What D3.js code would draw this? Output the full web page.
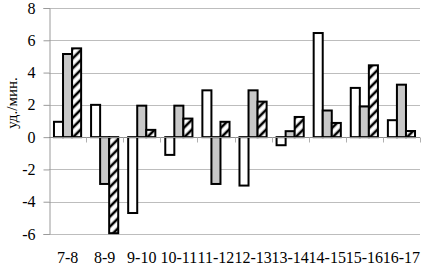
<!DOCTYPE html>
<html>
<head>
<meta charset="utf-8">
<script src="https://cdn.jsdelivr.net/npm/d3@7"></script>
<style>
  body { margin: 0; background: #fff; }
  svg { display: block; font-family: "Liberation Serif", "Times New Roman", serif; }
</style>
</head>
<body>
<div id="chart"></div>
<script>
// categories (hours) and the three series
var categories = ["7-8", "8-9", "9-10", "10-11", "11-12", "12-13", "13-14", "14-15", "15-16", "16-17"];
var seriesNames = ["s1", "s2", "s3"];
var s1 = [0.95, 2.0, -4.7, -1.1, 2.9, -3.0, -0.5, 6.45, 3.05, 1.05];
var s2 = [5.15, -2.9, 1.95, 1.95, -2.9, 2.9, 0.37, 1.65, 1.9, 3.25];
var s3 = [5.5, -5.95, 0.45, 1.15, 0.95, 2.2, 1.25, 0.88, 4.45, 0.38];
var yTicks = [-6, -4, -2, 0, 2, 4, 6, 8];
var yTitle = "уд./мин.";

var width = 422, height = 265;
var margin = {top: 8, right: 2, bottom: 31, left: 49};

var svg = d3.select("#chart").append("svg")
    .attr("width", width)
    .attr("height", height);

// hatch for third series
var defs = svg.append("defs");
defs.append("pattern")
    .attr("id", "hatch")
    .attr("patternUnits", "userSpaceOnUse")
    .attr("width", 7)
    .attr("height", 7)
    .attr("patternTransform", "rotate(45)")
  .call(function(p) {
      p.append("rect").attr("width", 7).attr("height", 7).attr("fill", "#fff");
      p.append("line").attr("x1", 2).attr("y1", 0).attr("x2", 2).attr("y2", 7)
        .attr("stroke", "#000").attr("stroke-width", 2.6);
  });

var fills = {s1: "#fff", s2: "#c8c8c8", s3: "url(#hatch)"};

var x0 = d3.scaleBand()
    .domain(categories)
    .range([margin.left, width - margin.right])
    .paddingInner(0).paddingOuter(0);

var x1 = d3.scaleBand()
    .domain(seriesNames)
    .range([0, x0.bandwidth()])
    .paddingInner(0)
    .paddingOuter(0.55);

var y = d3.scaleLinear()
    .domain([-6, 8])
    .range([height - margin.bottom, margin.top]);

// gridlines
svg.append("g")
    .selectAll("line")
    .data(yTicks)
    .join("line")
    .attr("x1", margin.left)
    .attr("x2", width - margin.right)
    .attr("y1", d => Math.round(y(d)) + 0.5)
    .attr("y2", d => Math.round(y(d)) + 0.5)
    .attr("stroke", "#bdbdbd")
    .attr("stroke-width", 1);

// y axis
var yAxis = svg.append("g")
    .attr("transform", "translate(" + (margin.left + 0.5) + ",0)")
    .call(d3.axisLeft(y).tickValues(yTicks).tickSize(6).tickPadding(8).tickFormat(d => d < 0 ? "-" + Math.abs(d) : d));
yAxis.select(".domain").attr("stroke", "#9a9a9a");
yAxis.selectAll(".tick line").attr("stroke", "#9a9a9a");
yAxis.selectAll("text").attr("font-size", 16).attr("fill", "#000")
    .attr("font-family", "Liberation Serif");

// bars
var rows = categories.map(function(c, i) {
    return {cat: c, vals: [{k: "s1", v: s1[i]}, {k: "s2", v: s2[i]}, {k: "s3", v: s3[i]}]};
});

var groups = svg.append("g").selectAll("g")
    .data(rows)
    .join("g")
    .attr("transform", d => "translate(" + x0(d.cat) + ",0)");

groups.selectAll("rect")
    .data(d => d.vals)
    .join("rect")
    .attr("x", d => x1(d.k))
    .attr("width", x1.bandwidth())
    .attr("y", d => y(Math.max(0, d.v)))
    .attr("height", d => Math.abs(y(d.v) - y(0)))
    .attr("fill", d => fills[d.k])
    .attr("stroke", "#000")
    .attr("stroke-width", 2);

// zero line with category ticks
var xAxis = svg.append("g")
    .attr("transform", "translate(0," + (Math.round(y(0)) + 0.5) + ")");
xAxis.append("line")
    .attr("x1", margin.left).attr("x2", width - margin.right)
    .attr("stroke", "#8c8c8c");
xAxis.selectAll(".tk")
    .data(categories.slice(1).concat(["end"]))
    .join("line")
    .attr("class", "tk")
    .attr("x1", (d, i) => Math.round(x0(categories[0]) + x0.step() * (i + 1)) + 0.5)
    .attr("x2", (d, i) => Math.round(x0(categories[0]) + x0.step() * (i + 1)) + 0.5)
    .attr("y1", 0).attr("y2", 5)
    .attr("stroke", "#b0b0b0");

// category labels
svg.append("g")
    .selectAll("text")
    .data(categories)
    .join("text")
    .attr("x", d => x0(d) + x0.bandwidth() / 2)
    .attr("y", height - 2)
    .attr("text-anchor", "middle")
    .attr("font-size", 16)
    .text(d => d);

// axis title
svg.append("text")
    .attr("transform", "translate(17," + 103 + ") rotate(-90)")
    .attr("text-anchor", "middle")
    .attr("font-size", 15)
    .text(yTitle);
</script>
</body>
</html>
